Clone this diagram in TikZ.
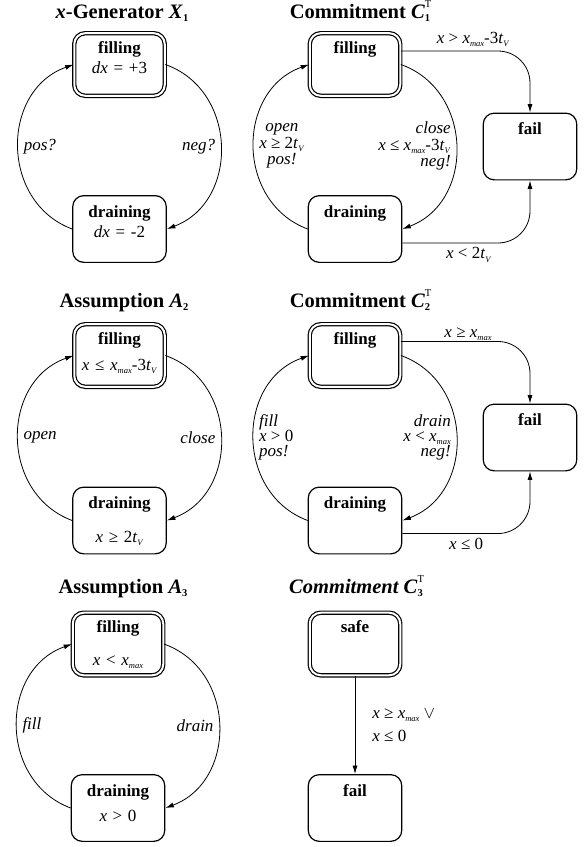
\documentclass[tikz,border=0pt]{standalone}
\usepackage{fontspec}
\setmainfont{Liberation Serif}
\usetikzlibrary{arrows.meta}
\setlength{\lineskiplimit}{-20pt}
\newcommand{\lowsub}[1]{\raisebox{-0.2em}[0pt][0pt]{\fontsize{8.5}{9}\selectfont #1}}
\newcommand{\ttlsub}[1]{\raisebox{-0.15em}[0pt][0pt]{\fontsize{10.5}{10.5}\selectfont #1}}
\newcommand{\supsub}[2]{\rlap{\raisebox{0.5em}[0pt][0pt]{\fontsize{10.5}{10.5}\selectfont\mdseries\upshape #1}}\ttlsub{\upshape #2}}
\newcommand{\vx}{\textit{x}}
\newcommand{\xmax}{\textit{x}\lowsub{\textit{max}}}
\newcommand{\tV}{\textit{t}\lowsub{\textit{V}}}
\tikzset{
  st/.style    = {draw, rounded corners=11pt, line width=1.2pt, inner sep=0pt,
                  align=center, text width=86pt, minimum width=93.5pt,
                  text height=21.4pt, text depth=45.3pt},
  init/.style  = {st, double, double distance=2pt, minimum width=90.5pt,
                  text height=19.8pt, text depth=42.8pt},
  ttl/.style   = {anchor=base, font=\fontsize{20.5}{24}\selectfont\bfseries},
  tr/.style    = {-{Latex[length=8.5pt,width=5pt]}, line width=0.8pt},
  loopy/.style = {bend left=70, looseness=1.2},
  lbl/.style   = {inner sep=5pt},
  grd/.style   = {inner sep=4pt},
  cond/.style  = {font=\fontsize{17}{16.5}\selectfont},
  tight/.style = {font=\fontsize{17}{15}\selectfont},
}
\begin{document}
\begin{tikzpicture}[x=1pt, y=-1pt, font=\fontsize{17}{20}\selectfont]
\useasboundingbox (0,0) rectangle (587,847);

\node[ttl]  (t1)  at (122,18)    {\textit{x}-Generator \textit{X}\ttlsub{1}};
\node[init] (x1f) at (119.5,64.5) {\textbf{filling}\\\textit{dx} = +3};
\node[st]   (x1d) at (119.5,229)  {\textbf{draining}\\\textit{dx} = -2};
\draw[tr] (x1f.east) to[loopy] node[lbl, left]  {\textit{neg?}} (x1d.east);
\draw[tr] (x1d.west) to[loopy] node[lbl, right] {\textit{pos?}} (x1f.west);

\node[ttl]  (t2)  at (360,18)    {Commitment \textit{C}\supsub{T}{1}};
\node[init] (c1f) at (355,64.5)  {\textbf{filling}};
\node[st]   (c1d) at (355,229)   {\textbf{draining}};
\node[st]   (c1x) at (530,146.5) {\textbf{fail}};
\draw[tr] (c1f.east) to[loopy] node[lbl, cond, left, align=right]
     {\textit{close}\\\vx{} ≤ \xmax-3\tV\\\textit{neg!}} (c1d.east);
\draw[tr] (c1d.west) to[loopy] node[lbl, cond, right, align=center]
     {\textit{open}\\\vx{} ≥ 2\tV\\\textit{pos!}} (c1f.west);
\draw[tr, rounded corners=32pt] ([yshift=13.5pt]c1f.east) -|
     node[grd, above=3pt, pos=0.28] {\vx{} > \xmax-3\tV} (c1x.north);
\draw[tr, rounded corners=32pt] ([yshift=-14pt]c1d.east) -|
     node[grd, below, pos=0.26] {\vx{} < 2\tV} (c1x.south);

\node[ttl]  (t3)  at (124,307)   {Assumption \textit{A}\ttlsub{2}};
\node[init] (a2f) at (119.5,355.5) {\textbf{filling}\\[6pt]\vx{} ≤ \xmax-3\tV};
\node[st]   (a2d) at (119.5,520.5) {\textbf{draining}\\[14pt]\vx{} ≥ 2\tV};
\draw[tr] (a2f.east) to[loopy] node[lbl, left]  {\textit{close}} (a2d.east);
\draw[tr] (a2d.west) to[loopy] node[lbl, right] {\textit{open}} (a2f.west);

\node[ttl]  (t4)  at (360,307)   {Commitment \textit{C}\supsub{T}{2}};
\node[init] (c2f) at (355,355.5) {\textbf{filling}};
\node[st]   (c2d) at (355,520.5) {\textbf{draining}};
\node[st]   (c2x) at (530,437.5) {\textbf{fail}};
\draw[tr] (c2f.east) to[loopy] node[lbl, tight, left, align=right]
     {\textit{drain}\\\vx{} < \xmax\\\textit{neg!}} (c2d.east);
\draw[tr] (c2d.west) to[loopy] node[lbl, tight, right, align=left]
     {\textit{fill}\\\vx{} > 0\\\textit{pos!}} (c2f.west);
\draw[tr, rounded corners=32pt] ([yshift=14pt]c2f.east) -|
     node[grd, above, pos=0.26] {\vx{} ≥ \xmax} (c2x.north);
\draw[tr, rounded corners=32pt] ([yshift=-13pt]c2d.east) -|
     node[grd, below, pos=0.25] {\vx{} ≤ 0} (c2x.south);

\node[ttl]  (t5)  at (123,593)   {Assumption \textit{A}\ttlsub{3}};
\node[init] (a3f) at (118,644)   {\textbf{filling}\\[13pt]\vx{} < \xmax};
\node[st]   (a3d) at (118,808)   {\textbf{draining}\\[5pt]\vx{} > 0};
\draw[tr] (a3f.east) to[loopy] node[lbl, left]  {\textit{drain}} (a3d.east);
\draw[tr] (a3d.west) to[loopy] node[lbl, right] {\textit{fill}} (a3f.west);

\node[ttl]  (t6)  at (356,593)   {\textit{Commitment C}\supsub{T}{3}};
\node[init] (c3s) at (355,644)   {\textbf{safe}};
\node[st]   (c3x) at (355,808)   {\textbf{fail}};
\draw[tr] (c3s) -- node[grd, right=13pt, align=left, font=\fontsize{17}{23}\selectfont]
     {\vx{} ≥ \xmax{} $\vee$\\\vx{} ≤ 0} (c3x);
\end{tikzpicture}
\end{document}
